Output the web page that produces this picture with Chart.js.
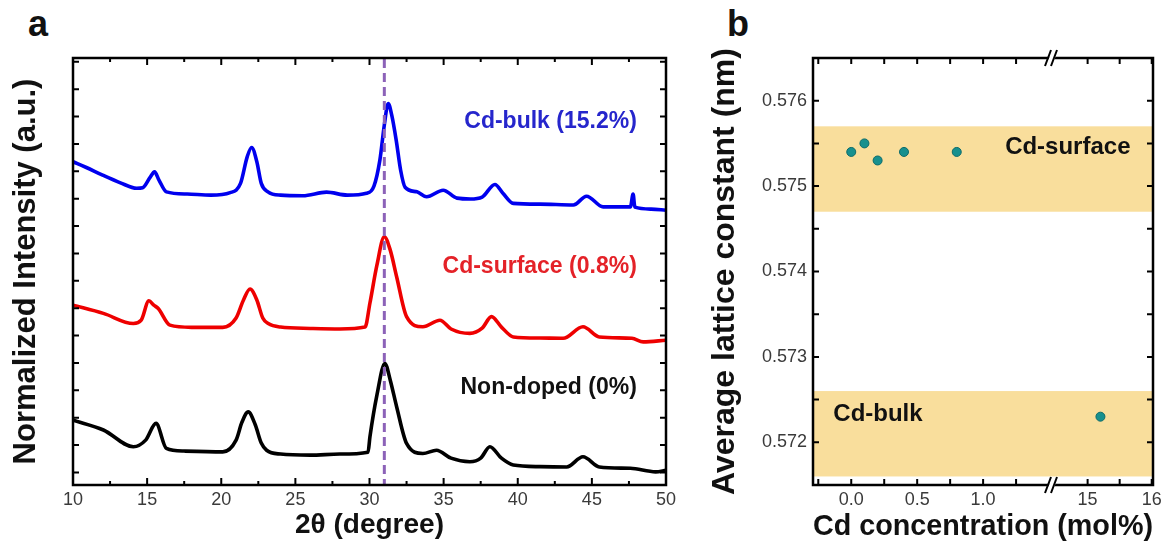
<!DOCTYPE html>
<html>
<head>
<meta charset="utf-8">
<script src="https://cdn.jsdelivr.net/npm/chart.js@4.4.1/dist/chart.umd.min.js"></script>
<style>
  body { margin: 0; background: #fff; width: 1167px; height: 548px; position: relative; overflow: hidden;
         font-family: "Liberation Sans", Arial, sans-serif; }
  .tag { position: absolute; font-weight: bold; font-size: 36px; line-height: 36px; color: #111; }
  #wrapA { position: absolute; left: 0; top: 0; width: 700px; height: 548px; }
  #wrapB { position: absolute; left: 700px; top: 0; width: 467px; height: 548px; }
</style>
</head>
<body>
<div class="tag" style="left:28px; top:6px;">a</div>
<div class="tag" style="left:727px; top:6px;">b</div>
<div id="wrapA"><canvas id="chartA"></canvas></div>
<div id="wrapB"><canvas id="chartB"></canvas></div>
<script>
// ---- panel a: XRD patterns, 2θ (degree) vs intensity (offset, tick units) ----
const bulkTheta = [10, 10.9, 12, 13.2, 14.3, 14.7, 15.2, 15.5, 15.8, 16.3, 17.7, 19.3, 20.6, 21.3, 21.75, 22.05, 22.4, 22.7, 23.15,
  24, 25.5, 27.1, 28.5, 29.8, 30.3, 30.7, 31, 31.26, 31.5, 31.8, 32.1, 32.4, 33.2, 33.85, 34.97, 35.9, 36.8,
  37.6, 38.46, 39, 39.7, 41.5, 43.75, 44.64, 45.76, 47.6, 47.78, 47.9, 49, 50];
const bulkInt = [11.35, 11.14, 10.86, 10.58, 10.38, 10.40, 10.78, 10.98, 10.68, 10.25, 10.17, 10.13, 10.22, 10.56, 11.53, 11.87, 11.35, 10.56, 10.25,
  10.13, 10.11, 10.24, 10.13, 10.20, 10.46, 11.41, 12.69, 13.48, 13.05, 12.14, 11.04, 10.42, 10.25, 10.07, 10.31, 10.02, 9.99,
  10.06, 10.52, 10.20, 9.83, 9.80, 9.77, 10.09, 9.70, 9.70, 10.17, 9.69, 9.62, 9.58];

const surfTheta = [10, 12.05, 14.07, 14.6, 15.12, 15.45, 15.75, 16.54, 18, 20.1, 21, 21.5, 21.94, 22.4, 22.8, 23.17,
  24, 26, 28, 29.7, 30.03, 30.5, 31, 31.4, 31.83, 32.5, 33.6, 34.75, 35.5, 36.77,
  37.6, 38.23, 38.9, 39.7, 41.5, 43.06, 44.4, 45.5, 47.7, 48.46, 50];
const surfInt = [6.11, 5.81, 5.44, 5.56, 6.27, 6.11, 5.99, 5.38, 5.30, 5.30, 5.64, 6.30, 6.70, 6.30, 5.64, 5.44,
  5.31, 5.26, 5.24, 5.31, 6.19, 7.57, 8.61, 8.12, 7.15, 5.69, 5.32, 5.56, 5.24, 5.08,
  5.27, 5.69, 5.31, 4.95, 4.91, 4.90, 5.32, 4.95, 4.90, 4.77, 4.83];

const pureTheta = [10, 12.05, 14.07, 14.9, 15.6, 16.3, 17.5, 20.1, 21, 21.4, 21.82, 22.3, 22.7, 23.06,
  24, 26, 28, 29.9, 30.03, 30.5, 31.04, 31.4, 31.83, 32.5, 33.6, 34.52, 35.5, 36.77,
  37.5, 38.12, 38.9, 39.7, 41.5, 43.3, 44.4, 45.5, 47.6, 49.3, 50];
const pureInt = [1.91, 1.55, 0.94, 1.18, 1.79, 0.88, 0.78, 0.75, 1.18, 1.84, 2.21, 1.73, 1.07, 0.81,
  0.67, 0.63, 0.67, 0.74, 1.30, 2.82, 3.98, 3.37, 2.40, 1.06, 0.69, 0.81, 0.52, 0.39,
  0.52, 0.94, 0.52, 0.27, 0.21, 0.20, 0.57, 0.20, 0.15, 0.02, 0.08];

const aLabels = ['Cd-bulk (15.2%)', 'Cd-surface (0.8%)', 'Non-doped (0%)'];
const aLabelPos = [[48.03, 12.81], [48.03, 7.51], [48.03, 3.08]];
const refPeak = 31.0;
const aMajorX = [10, 15, 20, 25, 30, 35, 40, 45, 50];
const aMinorX = [12.5, 17.5, 22.5, 27.5, 32.5, 37.5, 42.5, 47.5];
const aTickY = [0, 1, 2, 3, 4, 5, 6, 7, 8, 9, 10, 11, 12, 13, 14, 15];

// ---- panel b: lattice constant vs Cd concentration ----
const surfConc = [0, 0.1, 0.2, 0.4, 0.8];
const surfLattice = [0.5754, 0.5755, 0.5753, 0.5754, 0.5754];
const bulkConc = [15.2];
const bulkLattice = [0.5723];
const surfBand = [0.5747, 0.5757];
const bulkBand = [0.5716, 0.5726];
const bMajorXl = [0, 0.5, 1.0];
const bMinorXl = [-0.25, 0.25, 0.75, 1.25];
const bMajorXr = [15, 16];
const bMinorXr = [15.5];
const bMajorY = [0.572, 0.573, 0.574, 0.575, 0.576];
const bMinorY = [0.5715, 0.5725, 0.5735, 0.5745, 0.5755, 0.5765];

const tickFont = { family: '"Liberation Sans Narrow", "Liberation Sans", Arial, sans-serif', size: 18 };
const bold = '"Liberation Sans", Arial, sans-serif';

function xy(xs, ys) { return xs.map((v, i) => ({ x: v, y: ys[i] })); }

function tickLines(ctx, area, scale, values, len, horizontal) {
  ctx.beginPath();
  values.forEach(v => {
    const p = scale.getPixelForValue(v);
    if (horizontal) {
      if (p < area.left - 0.5 || p > area.right + 0.5) return;
      ctx.moveTo(p, area.bottom); ctx.lineTo(p, area.bottom - len);
      ctx.moveTo(p, area.top); ctx.lineTo(p, area.top + len);
    } else {
      if (p < area.top - 0.5 || p > area.bottom + 0.5) return;
      ctx.moveTo(area.left, p); ctx.lineTo(area.left + len, p);
      ctx.moveTo(area.right, p); ctx.lineTo(area.right - len, p);
    }
  });
  ctx.stroke();
}

const decorA = {
  id: 'decorA',
  afterDatasetsDraw(chart) {
    const { ctx, chartArea: a, scales: { x, y } } = chart;
    ctx.save();
    const px = x.getPixelForValue(refPeak);
    ctx.strokeStyle = '#8c62b8';
    ctx.lineWidth = 3;
    ctx.setLineDash([9, 5]);
    ctx.beginPath(); ctx.moveTo(px, a.top + 1); ctx.lineTo(px, a.bottom); ctx.stroke();
    ctx.setLineDash([]);
    const colors = ['#2626cc', '#e42228', '#111111'];
    ctx.font = 'bold 23px ' + bold;
    ctx.textAlign = 'right';
    ctx.textBaseline = 'middle';
    aLabels.forEach((t, i) => {
      ctx.fillStyle = colors[i];
      ctx.fillText(t, x.getPixelForValue(aLabelPos[i][0]), y.getPixelForValue(aLabelPos[i][1]));
    });
    ctx.restore();
  },
  afterDraw(chart) {
    const { ctx, chartArea: a, scales: { x, y } } = chart;
    ctx.save();
    ctx.strokeStyle = '#000';
    ctx.lineWidth = 2;
    tickLines(ctx, a, x, aMajorX, 7, true);
    tickLines(ctx, a, x, aMinorX, 4, true);
    tickLines(ctx, a, y, aTickY, 6, false);
    ctx.lineWidth = 2.5;
    ctx.strokeRect(a.left, a.top, a.right - a.left, a.bottom - a.top);
    ctx.restore();
  }
};

new Chart(document.getElementById('chartA'), {
  type: 'line',
  data: {
    datasets: [
      { data: xy(bulkTheta, bulkInt), borderColor: '#0000ee' },
      { data: xy(surfTheta, surfInt), borderColor: '#ee0000' },
      { data: xy(pureTheta, pureInt), borderColor: '#000000' }
    ].map(d => Object.assign(d, { borderWidth: 3.6, pointRadius: 0, cubicInterpolationMode: 'monotone' }))
  },
  options: {
    responsive: true, maintainAspectRatio: false, animation: false,
    layout: { padding: { top: 58, right: 34, left: 0, bottom: 0 } },
    plugins: { legend: { display: false }, tooltip: { enabled: false } },
    scales: {
      x: {
        type: 'linear', min: 10, max: 50,
        afterBuildTicks: s => { s.ticks = aMajorX.map(v => ({ value: v })); },
        afterFit: s => { s.height = 63; },
        grid: { display: false, drawTicks: false }, border: { display: false },
        ticks: { font: tickFont, color: '#3a3a3a', padding: 4 },
        title: { display: true, text: '2θ (degree)', font: { family: bold, size: 28, weight: 'bold' }, color: '#111', padding: { top: 0, bottom: 6 } }
      },
      y: {
        type: 'linear', min: -0.46, max: 15.14,
        afterFit: s => { s.width = 73; },
        grid: { display: false, drawTicks: false }, border: { display: false },
        ticks: { display: false },
        title: { display: true, text: 'Normalized Intensity (a.u.)', font: { family: bold, size: 31, weight: 'bold' }, color: '#111', padding: { top: 8, bottom: 0 } }
      }
    }
  },
  plugins: [decorA]
});

const decorB = {
  id: 'decorB',
  beforeDatasetsDraw(chart) {
    const { ctx, chartArea: a, scales: { y } } = chart;
    ctx.save();
    ctx.fillStyle = '#f9de9c';
    [surfBand, bulkBand].forEach(b => {
      const y1 = y.getPixelForValue(b[1]), y0 = y.getPixelForValue(b[0]);
      ctx.fillRect(a.left, y1, a.right - a.left, y0 - y1);
    });
    ctx.fillStyle = '#111';
    ctx.font = 'bold 24px ' + bold;
    ctx.textBaseline = 'middle';
    ctx.textAlign = 'left';
    ctx.fillText('Cd-surface', chart.scales.xl.getPixelForValue(1.167), y.getPixelForValue(0.57545));
    ctx.fillText('Cd-bulk', chart.scales.xl.getPixelForValue(-0.136), y.getPixelForValue(0.57233));
    ctx.restore();
  },
  afterDraw(chart) {
    const { ctx, chartArea: a, scales: { xl, xr, y } } = chart;
    ctx.save();
    ctx.strokeStyle = '#000';
    ctx.lineWidth = 2;
    tickLines(ctx, a, xl, bMajorXl, 6, true);
    tickLines(ctx, a, xl, bMinorXl, 6, true);
    tickLines(ctx, a, xr, bMajorXr, 6, true);
    tickLines(ctx, a, xr, bMinorXr, 6, true);
    tickLines(ctx, a, y, bMajorY, 6, false);
    tickLines(ctx, a, y, bMinorY, 6, false);
    ctx.lineWidth = 2.5;
    ctx.strokeRect(a.left, a.top, a.right - a.left, a.bottom - a.top);
    // axis break marks
    const bx = xl.right;
    [a.top, a.bottom].forEach(by => {
      ctx.fillStyle = '#fff';
      ctx.beginPath();
      ctx.moveTo(bx - 7, by + 8); ctx.lineTo(bx - 1, by - 8); ctx.lineTo(bx + 5, by - 8); ctx.lineTo(bx - 1, by + 8);
      ctx.closePath(); ctx.fill();
      ctx.lineWidth = 2;
      ctx.beginPath();
      ctx.moveTo(bx - 8, by + 8); ctx.lineTo(bx - 2, by - 8);
      ctx.moveTo(bx - 2, by + 8); ctx.lineTo(bx + 4, by - 8);
      ctx.stroke();
    });
    ctx.restore();
  }
};

const ptStyle = { type: 'scatter', pointRadius: 4.5, pointBackgroundColor: '#17908e', pointBorderColor: '#0c6b6a', pointBorderWidth: 1, yAxisID: 'y' };

new Chart(document.getElementById('chartB'), {
  type: 'scatter',
  data: {
    datasets: [
      Object.assign({ data: xy(surfConc, surfLattice), xAxisID: 'xl' }, ptStyle),
      Object.assign({ data: xy(bulkConc, bulkLattice), xAxisID: 'xr' }, ptStyle)
    ]
  },
  options: {
    responsive: true, maintainAspectRatio: false, animation: false,
    layout: { padding: { top: 58, right: 14, left: 0, bottom: 0 } },
    plugins: {
      legend: { display: false }, tooltip: { enabled: false },
      title: { display: true, position: 'bottom', fullSize: false, text: 'Cd concentration (mol%)',
               font: { family: bold, size: 30, weight: 'bold' }, color: '#111', padding: { top: 2, bottom: 3 } }
    },
    scales: {
      xl: {
        type: 'linear', position: 'bottom', stack: 'cd', stackWeight: 240, min: -0.29, max: 1.53,
        afterBuildTicks: s => { s.ticks = bMajorXl.map(v => ({ value: v })); },
        afterFit: s => { s.height = 22; },
        grid: { display: false, drawTicks: false }, border: { display: false },
        ticks: { font: tickFont, color: '#3a3a3a', padding: 4, callback: v => v.toFixed(1) }
      },
      xr: {
        type: 'linear', position: 'bottom', stack: 'cd', stackWeight: 100, min: 14.46, max: 16.02,
        afterBuildTicks: s => { s.ticks = bMajorXr.map(v => ({ value: v })); },
        afterFit: s => { s.height = 22; },
        grid: { display: false, drawTicks: false }, border: { display: false },
        ticks: { font: tickFont, color: '#3a3a3a', padding: 4, callback: v => String(v) }
      },
      y: {
        type: 'linear', position: 'left', min: 0.5715, max: 0.5765,
        afterBuildTicks: s => { s.ticks = bMajorY.map(v => ({ value: v })); },
        afterFit: s => { s.width = 113; },
        grid: { display: false, drawTicks: false }, border: { display: false },
        ticks: { font: tickFont, color: '#3a3a3a', padding: 6, callback: v => v.toFixed(3) },
        title: { display: true, text: 'Average lattice constant (nm)', font: { family: bold, size: 32, weight: 'bold' }, color: '#111', padding: { top: 6, bottom: 0 } }
      }
    }
  },
  plugins: [decorB]
});
</script>
</body>
</html>
